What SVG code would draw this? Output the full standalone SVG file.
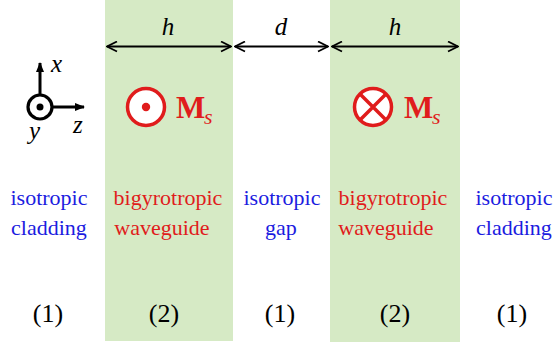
<svg xmlns="http://www.w3.org/2000/svg" width="553" height="345" viewBox="0 0 553 345">
<style>
.band{fill:#d6eac5}
.dim{stroke:#000;stroke-width:1.8;fill:none}
text{font-family:'Liberation Serif','Times New Roman','DejaVu Serif',serif}
.it{font-style:italic;font-size:25px;fill:#000}
.lbl{font-size:22px;text-anchor:middle}
.blue{fill:#1c1ce0}
.red{fill:#e01c1c}
.num{font-size:26px;text-anchor:middle;fill:#000}
.M{font-weight:bold;font-size:31px;fill:#e01c1c}
.s{font-style:italic;font-size:22px;fill:#e01c1c}
</style>
<defs>
<marker id="chev" viewBox="0 0 12 12" refX="11" refY="6" markerWidth="12" markerHeight="12" markerUnits="userSpaceOnUse" orient="auto-start-reverse">
<path d="M1,1 L11,6 L1,11" fill="none" stroke="#000" stroke-width="1.8"/>
</marker>
<marker id="tri" viewBox="0 0 10 10" refX="9" refY="5" markerWidth="10" markerHeight="10" markerUnits="userSpaceOnUse" orient="auto">
<path d="M0,1 L10,5 L0,9 Z" fill="#000"/>
</marker>
</defs>
<g id="bands">
<rect class="band" x="105" y="0" width="128" height="341"/>
<rect class="band" x="330" y="0" width="130" height="342"/>
</g>
<g id="connectors">
<line class="dim" x1="107" y1="46.5" x2="231" y2="46.5" marker-start="url(#chev)" marker-end="url(#chev)"/>
<line class="dim" x1="235" y1="46.5" x2="328" y2="46.5" marker-start="url(#chev)" marker-end="url(#chev)"/>
<line class="dim" x1="332" y1="46.5" x2="458" y2="46.5" marker-start="url(#chev)" marker-end="url(#chev)"/>
</g>
<g id="dim-labels">
<text class="it" x="168" y="35" text-anchor="middle">h</text>
<text class="it" x="281" y="35" text-anchor="middle">d</text>
<text class="it" x="395" y="35" text-anchor="middle">h</text>
</g>
<g id="axes">
<line x1="40" y1="94" x2="40" y2="63" stroke="#000" stroke-width="3" marker-end="url(#tri)"/>
<line x1="53" y1="107" x2="84" y2="107" stroke="#000" stroke-width="3" marker-end="url(#tri)"/>
<circle cx="40" cy="107" r="12" fill="#fff" stroke="#000" stroke-width="3.2"/>
<circle cx="40" cy="107" r="3.5" fill="#000"/>
<text class="it" x="51" y="72">x</text>
<text class="it" x="73" y="133">z</text>
<text class="it" x="29" y="139">y</text>
</g>
<g id="Ms-out">
<circle cx="146" cy="107" r="18.5" fill="#fff" stroke="#e01c1c" stroke-width="3.5"/>
<circle cx="146" cy="107" r="4.2" fill="#e01c1c"/>
<text class="M" x="176" y="118">M</text>
<text class="s" x="204" y="124">s</text>
</g>
<g id="Ms-in">
<circle cx="373" cy="107" r="18.5" fill="#fff" stroke="#e01c1c" stroke-width="3.5"/>
<path d="M360,94 L386,120 M386,94 L360,120" stroke="#e01c1c" stroke-width="3.5"/>
<text class="M" x="404" y="118">M</text>
<text class="s" x="432" y="124">s</text>
</g>
<g id="cladding-left">
<text class="lbl blue" x="49" y="205">isotropic</text>
<text class="lbl blue" x="49" y="235">cladding</text>
<text class="num" x="48" y="322">(1)</text>
</g>
<g id="waveguide-left">
<text class="lbl red" x="168" y="205">bigyrotropic</text>
<text class="lbl red" x="162" y="235">waveguide</text>
<text class="num" x="164" y="322">(2)</text>
</g>
<g id="gap">
<text class="lbl blue" x="282" y="205">isotropic</text>
<text class="lbl blue" x="281" y="235">gap</text>
<text class="num" x="280" y="322">(1)</text>
</g>
<g id="waveguide-right">
<text class="lbl red" x="393" y="205">bigyrotropic</text>
<text class="lbl red" x="386" y="235">waveguide</text>
<text class="num" x="395" y="322">(2)</text>
</g>
<g id="cladding-right">
<text class="lbl blue" x="514" y="205">isotropic</text>
<text class="lbl blue" x="514" y="235">cladding</text>
<text class="num" x="512" y="322">(1)</text>
</g>
</svg>
